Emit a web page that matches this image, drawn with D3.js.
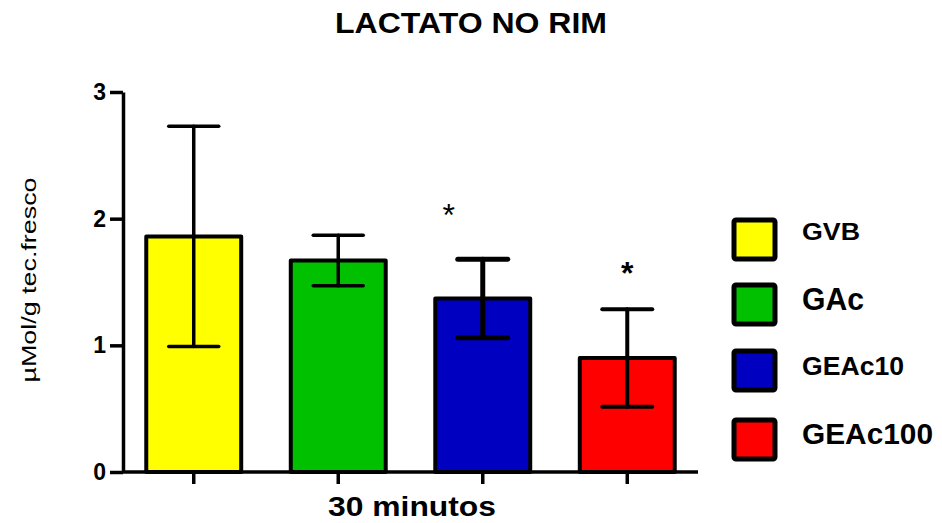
<!DOCTYPE html>
<html>
<head>
<meta charset="utf-8">
<script src="https://cdn.jsdelivr.net/npm/d3@7"></script>
<style>
    body { margin: 0; background: #fff; }
    svg { display: block; font-family: "Liberation Sans", Arial, sans-serif; }
</style>
</head>
<body>
<div id="chart"></div>
<script>
// data
const groups = ["GVB", "GAc", "GEAc10", "GEAc100"];
const means = [1.86, 1.67, 1.37, 0.90];
const errors = [0.87, 0.20, 0.31, 0.385];
const significant = ["GEAc10", "GEAc100"];
const yTicks = [0, 1, 2, 3];

// styles per group
const fills = {GVB: "#ffff00", GAc: "#00c000", GEAc10: "#0000c0", GEAc100: "#ff0000"};
const legendFont = {GVB: 23, GAc: 31, GEAc10: 25, GEAc100: 30};
const legendWidth = {GVB: 58, GAc: 62, GEAc10: 102, GEAc100: 131};
const errWidth = {GVB: 3.5, GAc: 3.5, GEAc10: 5, GEAc100: 4};

const width = 942, height = 523;
const svg = d3.select("#chart").append("svg")
    .attr("width", width)
    .attr("height", height);

const x = d3.scaleBand()
    .domain(groups)
    .range([123, 698])
    .paddingInner(0.343)
    .paddingOuter(0.161);

const y = d3.scaleLinear()
    .domain([0, 3])
    .range([472, 92]);

// title
svg.append("text")
    .attr("x", 471)
    .attr("y", 33)
    .attr("text-anchor", "middle")
    .style("font-size", "29px")
    .style("font-weight", "bold")
    .attr("textLength", 272)
    .attr("lengthAdjust", "spacingAndGlyphs")
    .text("LACTATO NO RIM");

// bars
svg.selectAll("rect.bar")
    .data(groups)
    .join("rect")
    .attr("class", "bar")
    .attr("x", d => x(d))
    .attr("width", x.bandwidth())
    .attr("y", (d, i) => y(means[i]))
    .attr("height", (d, i) => y(0) - y(means[i]))
    .attr("fill", d => fills[d])
    .attr("stroke", "#000")
    .attr("stroke-width", 4)
    .attr("stroke-linejoin", "round");

// error bars
const err = svg.selectAll("g.err")
    .data(groups)
    .join("g")
    .attr("class", "err")
    .attr("stroke", "#000")
    .attr("stroke-linecap", "round")
    .attr("stroke-width", d => errWidth[d]);

err.append("line")
    .attr("x1", d => x(d) + x.bandwidth() / 2)
    .attr("x2", d => x(d) + x.bandwidth() / 2)
    .attr("y1", (d, i) => y(means[i] - errors[i]))
    .attr("y2", (d, i) => y(means[i] + errors[i]));

[1, -1].forEach(function(sign) {
    err.append("line")
        .attr("x1", d => x(d) + x.bandwidth() / 2 - 25)
        .attr("x2", d => x(d) + x.bandwidth() / 2 + 25)
        .attr("y1", (d, i) => y(means[i] + sign * errors[i]))
        .attr("y2", (d, i) => y(means[i] + sign * errors[i]));
});

// asterisks
svg.selectAll("text.star")
    .data(significant)
    .join("text")
    .attr("class", "star")
    .attr("x", d => x(d) + x.bandwidth() / 2 + (d === "GEAc10" ? -34 : 0))
    .attr("y", d => {
        const i = groups.indexOf(d);
        return y(means[i] + errors[i]) - (d === "GEAc10" ? 33 : 25);
    })
    .attr("text-anchor", "middle")
    .style("font-size", "32px")
    .style("font-weight", d => d === "GEAc10" ? "normal" : "bold")
    .text("*");

// axes
const yAxis = svg.append("g")
    .attr("transform", "translate(123,0)")
    .call(d3.axisLeft(y).tickValues(yTicks).tickFormat(d3.format("d")).tickSize(13).tickSizeOuter(0).tickPadding(4));

const xAxis = svg.append("g")
    .attr("transform", "translate(0,472)")
    .call(d3.axisBottom(x).tickSize(12).tickSizeOuter(0).tickFormat(""));

[yAxis, xAxis].forEach(function(ax) {
    ax.select(".domain").attr("stroke", "#000").attr("stroke-width", 3.5);
    ax.selectAll(".tick line").attr("stroke", "#000").attr("stroke-width", 3.5);
});
yAxis.selectAll(".tick text")
    .style("font-size", "23px")
    .style("font-weight", "bold")
    .style("font-family", "'Liberation Sans', Arial, sans-serif")
    .attr("fill", "#000");
xAxis.select(".domain").attr("d", "M123,0H698");

// axis titles
svg.append("text")
    .attr("x", 412)
    .attr("y", 516)
    .attr("text-anchor", "middle")
    .style("font-size", "27px")
    .style("font-weight", "bold")
    .attr("textLength", 168)
    .attr("lengthAdjust", "spacingAndGlyphs")
    .text("30 minutos");

svg.append("text")
    .attr("transform", "translate(36,280) rotate(-90)")
    .attr("text-anchor", "middle")
    .style("font-size", "20px")
    .attr("textLength", 205)
    .attr("lengthAdjust", "spacingAndGlyphs")
    .text("µMol/g tec.fresco");

// legend
const legendTop = [218, 283, 349, 418];
const legendBase = [240, 310, 375, 444];
const legend = svg.selectAll("g.legend")
    .data(groups)
    .join("g")
    .attr("class", "legend");

legend.append("rect")
    .attr("x", 734)
    .attr("y", (d, i) => legendTop[i] + 2)
    .attr("width", 41)
    .attr("height", 39)
    .attr("rx", 2)
    .attr("fill", d => fills[d])
    .attr("stroke", "#000")
    .attr("stroke-width", 5);

legend.append("text")
    .attr("x", 802)
    .attr("y", (d, i) => legendBase[i])
    .style("font-size", d => legendFont[d] + "px")
    .style("font-weight", "bold")
    .attr("textLength", d => legendWidth[d])
    .attr("lengthAdjust", "spacingAndGlyphs")
    .text(d => d);
</script>
</body>
</html>
